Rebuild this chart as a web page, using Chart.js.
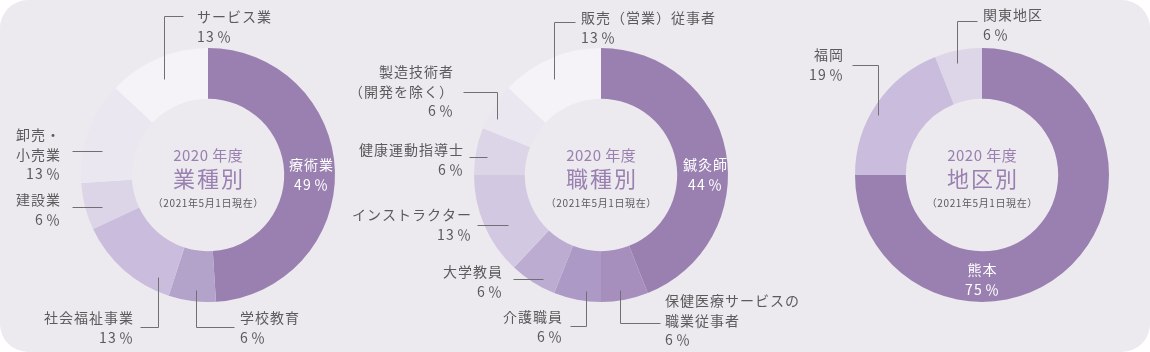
<!DOCTYPE html>
<html lang="ja">
<head>
<meta charset="utf-8">
<script src="https://cdn.jsdelivr.net/npm/chart.js@4.4.1/dist/chart.umd.min.js"></script>
<style>
html, body { margin: 0; padding: 0; background: #fff; }
#panel { position: absolute; left: 0; top: 0; width: 1150px; height: 352px; background: #ece9ef; border-radius: 28px; overflow: hidden; }
#panel canvas { position: absolute; left: 0; top: 0; }
</style>
</head>
<body>
<div id="panel">
    <canvas id="chart-industry" width="1150" height="352"></canvas>
    <canvas id="chart-job" width="1150" height="352"></canvas>
    <canvas id="chart-region" width="1150" height="352"></canvas>
</div>
<script>
// 業種別
const industryLabels = ['療術業', '学校教育', '社会福祉事業', '建設業', '卸売・\n小売業', 'サービス業'];
const industryValues = [49, 6, 13, 6, 13, 13];

// 職種別
const jobLabels = ['鍼灸師', '保健医療サービスの\n職業従事者', '介護職員', '大学教員', 'インストラクター', '健康運動指導士', '製造技術者\n（開発を除く）', '販売（営業）従事者'];
const jobValues = [44, 6, 6, 6, 13, 6, 6, 13];

// 地区別
const regionLabels = ['熊本', '福岡', '関東地区'];
const regionValues = [75, 19, 6];

const titles = ['業種別', '職種別', '地区別'];
const yearText = '2020 年度';
const asOfText = '（2021年5月1日現在）';

// 色
const industryColors = ['#9a80b0', '#b3a2c9', '#c9bcdc', '#dcd4e7', '#ebe7f1', '#f5f3f8'];
const jobColors = ['#9a80b0', '#a68fbd', '#ad99c5', '#bcacd1', '#d3c8e1', '#dcd5e7', '#ebe7f1', '#f5f3f8'];
const regionColors = ['#9a80b0', '#c9bcdc', '#ddd6e8'];

const FONT = '"Noto Sans CJK JP", "Noto Sans", sans-serif';
const TEXT_COLOR = '#5b5b5b';
const LINE_COLOR = '#707070';
const TITLE_COLOR = '#9a80b0';
const RADIUS = 127;

// ラベル配置 (円の中心からの相対位置)
const industryLayout = [
    { align: 'center', x: 103, y: -10, inside: true },
    { align: 'left', x: 32, y: 143, path: [[-12, 115], [-12, 152], [26, 152]] },
    { align: 'right', x: -75, y: 143, path: [[-50, 102], [-50, 152], [-68, 152]] },
    { align: 'right', x: -148, y: 25, path: [[-106, 32], [-136, 32]] },
    { align: 'right', x: -148, y: -40, path: [[-106, -24], [-136, -24]] },
    { align: 'left', x: -11, y: -158, path: [[-44, -96], [-44, -159], [-25, -159]] }
];
const jobLayout = [
    { align: 'center', x: 104, y: -10, inside: true },
    { align: 'left', x: 64, y: 126, path: [[19, 115], [19, 148], [59, 148]] },
    { align: 'right', x: -39, y: 142, path: [[-15, 116], [-15, 151], [-31, 151]] },
    { align: 'right', x: -99, y: 97, path: [[-58, 104], [-88, 104]] },
    { align: 'right', x: -130, y: 40, path: [[-93, 50], [-124, 50]] },
    { align: 'right', x: -138, y: -25, path: [[-114, -18], [-132, -18]] },
    { align: 'right', x: -148, y: -103, path: [[-104, -56], [-104, -83], [-138, -83]] },
    { align: 'left', x: -20, y: -157, path: [[-47, -96], [-47, -153], [-26, -153]] }
];
const regionLayout = [
    { align: 'center', x: 0, y: 95, inside: true },
    { align: 'right', x: -139, y: -120, path: [[-104, -60], [-104, -110], [-130, -110]] },
    { align: 'left', x: 1, y: -160, path: [[-25, -112], [-25, -154], [-5, -154]] }
];

// 文字間隔つきで描画
function drawText(ctx, text, x, y, align, spacing) {
    ctx.letterSpacing = spacing + 'px';
    const w = ctx.measureText(text).width - spacing;
    let left = x;
    if (align === 'right') left = x - w;
    if (align === 'center') left = x - w / 2;
    ctx.textAlign = 'left';
    ctx.fillText(text, left, y);
    ctx.letterSpacing = '0px';
}

const labelPlugin = {
    id: 'donutLabels',
    afterDraw(chart, args, opts) {
        const ctx = chart.ctx;
        const arcs = chart.getDatasetMeta(0).data;
        if (!arcs.length) return;
        const cx = arcs[0].x;
        const cy = arcs[0].y;
        const labels = chart.data.labels;
        const values = chart.data.datasets[0].data;

        ctx.save();
        ctx.textBaseline = 'middle';

        // 中央テキスト
        ctx.fillStyle = TITLE_COLOR;
        ctx.font = '15px ' + FONT;
        drawText(ctx, yearText, cx, cy - 20, 'center', 0.5);
        ctx.font = '22px ' + FONT;
        drawText(ctx, opts.title, cx, cy + 4, 'center', 2);
        ctx.fillStyle = TEXT_COLOR;
        ctx.font = '10px ' + FONT;
        drawText(ctx, asOfText, cx, cy + 28, 'center', 0.6);

        // 引き出し線とラベル
        opts.layout.forEach((lay, i) => {
            if (lay.path) {
                ctx.strokeStyle = LINE_COLOR;
                ctx.lineWidth = 1;
                ctx.beginPath();
                lay.path.forEach((p, j) => {
                    const px = Math.round(cx + p[0]) + 0.5;
                    const py = Math.round(cy + p[1]) + 0.5;
                    if (j === 0) ctx.moveTo(px, py);
                    else ctx.lineTo(px, py);
                });
                ctx.stroke();
            }
            const lines = labels[i].split('\n');
            lines.push(values[i] + '\u200a％');
            ctx.fillStyle = lay.inside ? '#ffffff' : TEXT_COLOR;
            lines.forEach((line, j) => {
                const isPct = j === lines.length - 1;
                ctx.font = '14px ' + FONT;
                drawText(ctx, line, cx + lay.x, cy + lay.y + j * 19.5, lay.align, isPct ? 1.2 : 1);
            });
        });
        ctx.restore();
    }
};

function makeDonut(id, centerX, labels, values, colors, layout, title) {
    const centerY = 175;
    const ctx = document.getElementById(id).getContext('2d');
    return new Chart(ctx, {
        type: 'doughnut',
        data: {
            labels: labels,
            datasets: [{
                data: values,
                backgroundColor: colors,
                borderWidth: 0,
                hoverOffset: 0,
                offset: 0
            }]
        },
        options: {
            responsive: false,
            animation: false,
            events: [],
            cutout: '60%',
            layout: {
                padding: {
                    left: centerX - RADIUS,
                    right: 1150 - centerX - RADIUS,
                    top: centerY - RADIUS,
                    bottom: 352 - centerY - RADIUS
                }
            },
            plugins: {
                legend: { display: false },
                tooltip: { enabled: false },
                donutLabels: { layout: layout, title: title }
            }
        },
        plugins: [labelPlugin]
    });
}

makeDonut('chart-industry', 208, industryLabels, industryValues, industryColors, industryLayout, titles[0]);
makeDonut('chart-job', 601, jobLabels, jobValues, jobColors, jobLayout, titles[1]);
makeDonut('chart-region', 982, regionLabels, regionValues, regionColors, regionLayout, titles[2]);
</script>
</body>
</html>
